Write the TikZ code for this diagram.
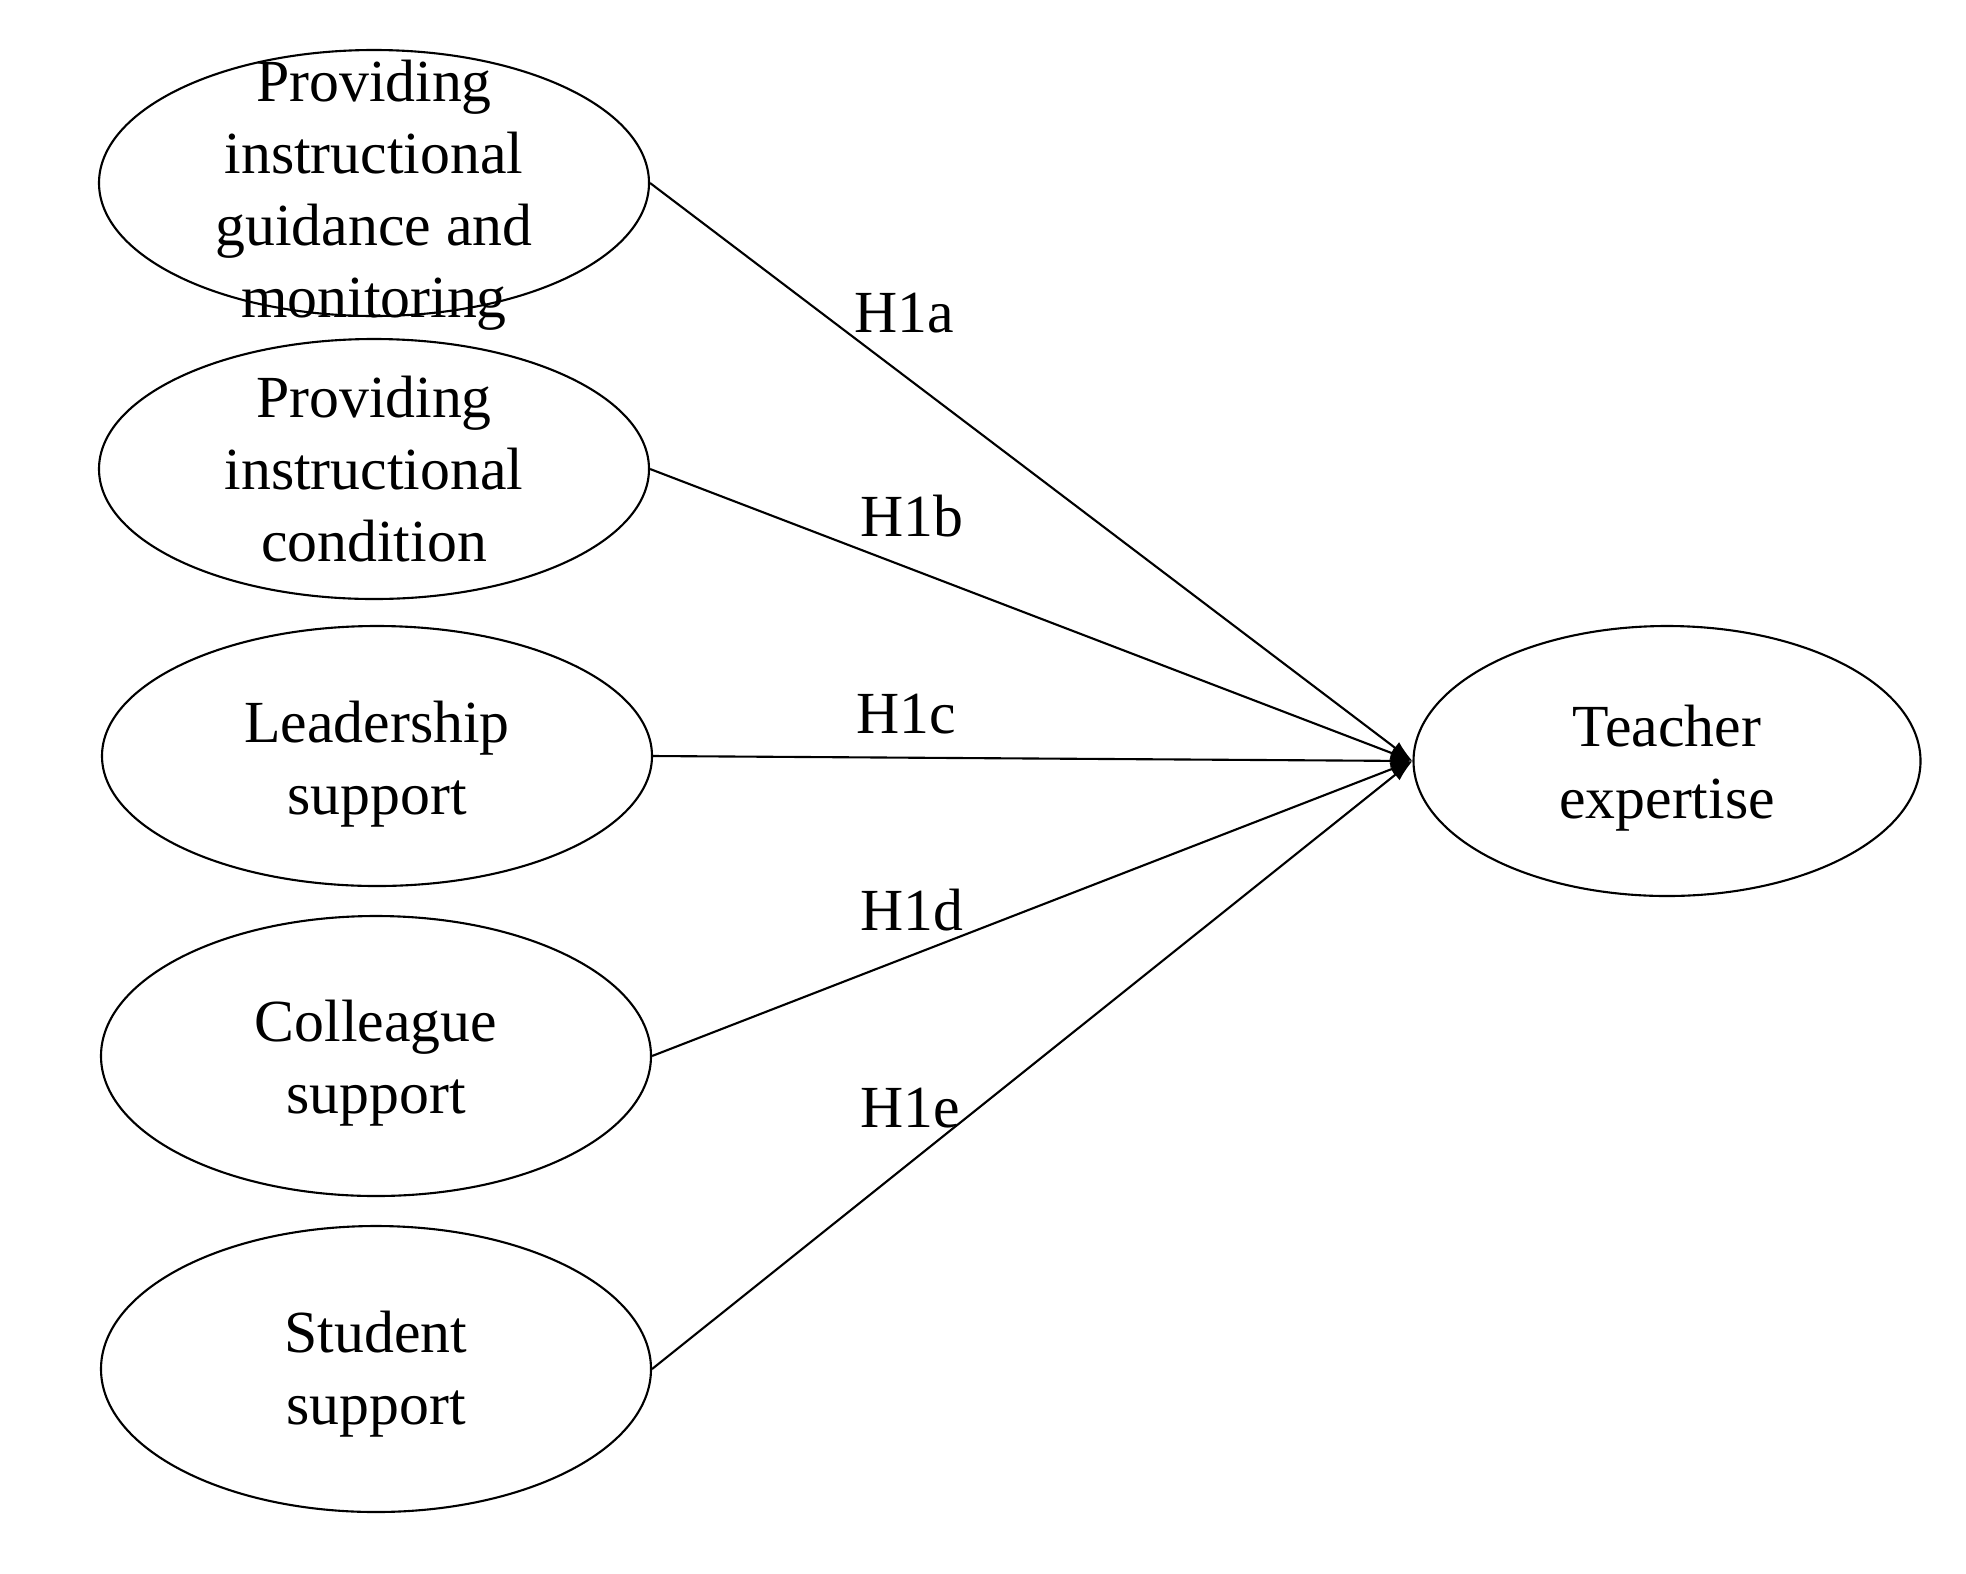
\documentclass[tikz,border=0pt]{standalone}
\usepackage{fontspec}
\setmainfont{Liberation Serif}
\usetikzlibrary{shapes.geometric,arrows.meta}

\begin{document}
\begin{tikzpicture}[
        line width=0.6pt,
        construct/.style={draw, ellipse, inner sep=0pt, minimum width=5.5cm},
        every node/.append style={font=\fontsize{17}{20.5}\selectfont},
        hyp/.style={-{Latex[length=2.2mm,width=1.4mm]}}
    ]
        % Setup the frame
        \useasboundingbox (0,0) rectangle (19.66,-15.73);

        % Constructs on the left
        \node[construct, minimum height=2.66cm] (guid) at (3.74,-1.83) {};
        \node[align=center, yshift=-0.12cm] (guidtext) at (guid) {Providing\\instructional\\guidance and\\monitoring};

        \node[construct, minimum height=2.6cm] (cond) at (3.74,-4.69) {};
        \node[align=center] (condtext) at (cond) {Providing\\instructional\\condition};

        \node[construct, minimum height=2.6cm] (lead) at (3.77,-7.56) {};
        \node[align=center, yshift=-0.08cm] (leadtext) at (lead) {Leadership\\support};

        \node[construct, minimum height=2.8cm] (coll) at (3.76,-10.56) {};
        \node[align=center, yshift=-0.07cm] (colltext) at (coll) {Colleague\\support};

        \node[construct, minimum height=2.86cm] (stud) at (3.76,-13.69) {};
        \node[align=center, yshift=-0.05cm] (studtext) at (stud) {Student\\support};

        % Outcome
        \node[construct, minimum width=5.07cm, minimum height=2.7cm] (expert) at (16.67,-7.61) {};
        \node[align=center, yshift=-0.07cm] (experttext) at (expert) {Teacher\\expertise};

        % Hypothesised paths
        \draw[hyp] (guid.east) -- (expert.west);
        \draw[hyp] (cond.east) -- (expert.west);
        \draw[hyp] (lead.east) -- (expert.west);
        \draw[hyp] (coll.east) -- (expert.west);
        \draw[hyp] (stud.east) -- (expert.west);

        \node[inner sep=0pt] (h1a) at (9.04,-3.13) {H1a};
        \node[inner sep=0pt] (h1b) at (9.12,-5.16) {H1b};
        \node[inner sep=0pt] (h1c) at (9.06,-7.14) {H1c};
        \node[inner sep=0pt] (h1d) at (9.12,-9.10) {H1d};
        \node[inner sep=0pt] (h1e) at (9.10,-11.08) {H1e};

\end{tikzpicture}
\end{document}
